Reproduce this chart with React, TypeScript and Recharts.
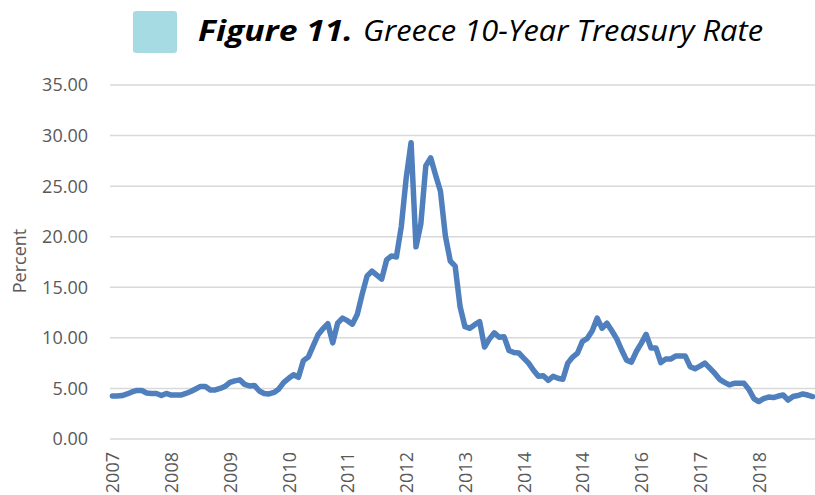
import React from "react";
import { CartesianGrid, Line, LineChart, XAxis, YAxis } from "recharts";

// x-axis labels, one per 12 monthly points (the source repeats 2014)
const yearLabels = [
  "2007", "2008", "2009", "2010", "2011", "2012",
  "2013", "2014", "2014", "2016", "2017", "2018",
];

// monthly 10-year yield, percent
const rates2007 = [4.25, 4.25, 4.3, 4.45, 4.65, 4.8, 4.8, 4.55, 4.5, 4.5, 4.3, 4.5];
const rates2008 = [4.35, 4.35, 4.35, 4.5, 4.7, 4.95, 5.2, 5.2, 4.85, 4.85, 5.0, 5.2];
const rates2009 = [5.6, 5.75, 5.85, 5.4, 5.25, 5.3, 4.75, 4.5, 4.45, 4.6, 4.95, 5.6];
const rates2010 = [6.0, 6.35, 6.1, 7.75, 8.1, 9.2, 10.3, 10.9, 11.4, 9.5, 11.45, 11.95];
const rates2011 = [11.7, 11.35, 12.3, 14.3, 16.1, 16.6, 16.2, 15.8, 17.7, 18.1, 18.0, 21.0];
const rates2012 = [25.8, 29.3, 19.0, 21.3, 27.0, 27.8, 26.1, 24.5, 20.1, 17.6, 17.1, 13.1];
const rates2013 = [11.1, 10.95, 11.3, 11.6, 9.1, 9.9, 10.5, 10.05, 10.1, 8.75, 8.55, 8.5];
const rates2014 = [8.0, 7.5, 6.8, 6.2, 6.25, 5.8, 6.2, 6.0, 5.9, 7.5, 8.1, 8.5];
const rates2015 = [9.65, 9.95, 10.7, 11.95, 10.95, 11.45, 10.7, 9.9, 8.8, 7.8, 7.6, 8.65];
const rates2016 = [9.45, 10.35, 9.0, 9.0, 7.55, 7.9, 7.9, 8.2, 8.2, 8.2, 7.15, 6.95];
const rates2017 = [7.2, 7.5, 7.0, 6.5, 5.9, 5.6, 5.35, 5.5, 5.5, 5.5, 4.9, 4.0];
const rates2018 = [3.7, 4.0, 4.15, 4.1, 4.25, 4.35, 3.85, 4.2, 4.3, 4.45, 4.35, 4.2];

const rates = [
  ...rates2007, ...rates2008, ...rates2009, ...rates2010, ...rates2011, ...rates2012,
  ...rates2013, ...rates2014, ...rates2015, ...rates2016, ...rates2017, ...rates2018,
];

const yTicks = [0, 5, 10, 15, 20, 25, 30, 35];

const data = rates.map((rate, idx) => ({ idx, rate }));
const xTicks = yearLabels.map((_, k) => k * 12);

const FONT = "'Open Sans', 'Noto Sans', sans-serif";
const GREY = "#595959";

function YearTick({ x, y, payload }: any) {
  const label = yearLabels[Math.round(payload.value / 12)];
  return (
    <text
      x={x}
      y={y}
      transform={`rotate(-90 ${x} ${y})`}
      textAnchor="end"
      dominantBaseline="central"
      fill={GREY}
      fontSize={18}
      fontFamily={FONT}
    >
      {label}
    </text>
  );
}

export default function App() {
  return (
    <div
      style={{
        position: "absolute",
        left: 0,
        top: 0,
        width: 815,
        height: 495,
        background: "#fff",
        overflow: "hidden",
      }}
    >
      <div
        style={{
          position: "absolute",
          left: 133,
          top: 11,
          width: 44,
          height: 42,
          borderRadius: 3,
          background: "#a6dbe4",
        }}
      />
      <svg
        width={815}
        height={495}
        style={{ position: "absolute", left: 0, top: 0, pointerEvents: "none" }}
      >
        <text
          x={198}
          y={41}
          fontFamily={FONT}
          fontStyle="italic"
          fontWeight={700}
          fontSize={29}
          fill="#000"
          textLength={155}
          lengthAdjust="spacingAndGlyphs"
        >
          Figure 11.
        </text>
        <text
          x={363}
          y={41}
          fontFamily={FONT}
          fontStyle="italic"
          fontSize={29}
          fill="#000"
          textLength={400}
          lengthAdjust="spacingAndGlyphs"
        >
          Greece 10-Year Treasury Rate
        </text>
        <text
          x={19}
          y={261}
          transform="rotate(-90 19 261)"
          textAnchor="middle"
          dominantBaseline="central"
          fontFamily={FONT}
          fontSize={18}
          fill={GREY}
        >
          Percent
        </text>
      </svg>
      <LineChart
        width={815}
        height={495}
        data={data}
        margin={{ top: 85, right: 0, bottom: 0, left: 10 }}
      >
        <CartesianGrid stroke="#d9d9d9" strokeWidth={1.5} vertical={false} />
        <XAxis
          dataKey="idx"
          type="category"
          ticks={xTicks}
          interval={0}
          height={56}
          axisLine={false}
          tickLine={false}
          tickSize={0}
          tickMargin={13}
          padding={{ left: 2.4, right: 2.4 }}
          tick={<YearTick />}
        />
        <YAxis
          domain={[0, 35]}
          ticks={yTicks}
          width={100}
          axisLine={false}
          tickLine={false}
          tickMargin={16}
          tickFormatter={(v: number) => v.toFixed(2)}
          tick={{ fill: GREY, fontSize: 18, fontFamily: FONT }}
        />
        <Line
          type="linear"
          dataKey="rate"
          stroke="#4f7fbd"
          strokeWidth={5.5}
          strokeLinejoin="round"
          strokeLinecap="round"
          dot={false}
          activeDot={false}
          isAnimationActive={false}
        />
      </LineChart>
    </div>
  );
}
